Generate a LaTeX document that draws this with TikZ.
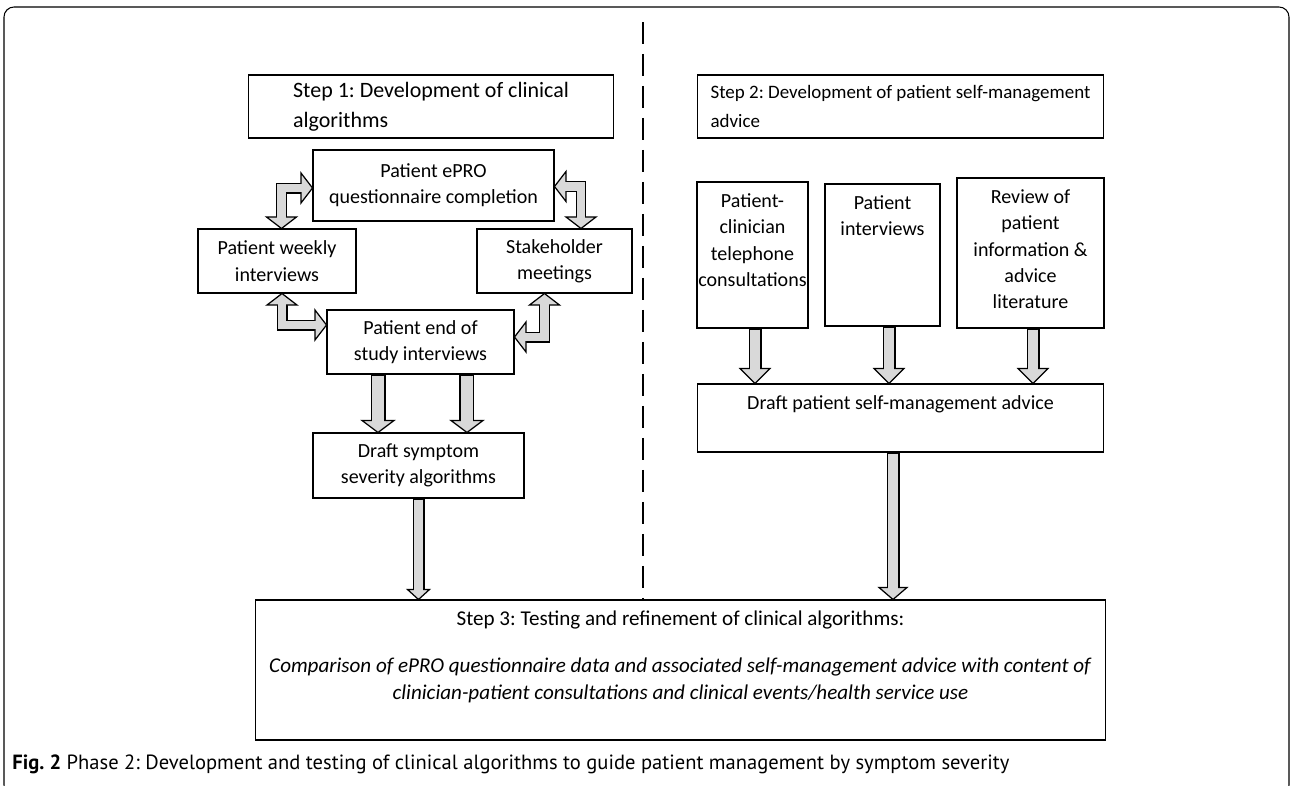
\documentclass[tikz,border=0pt]{standalone}
\usepackage{fontspec}
\setmainfont{Carlito}
\newfontfamily\capfont{PT Sans}
\usetikzlibrary{calc}
\frenchspacing

\definecolor{arrowgray}{gray}{0.85}

\pgfkeys{/blk/.cd,
  shaft/.store in=\blkshaft, head/.store in=\blkhead, len/.store in=\blklen,
  shaft=0.26cm, head=0.3cm, len=0.28cm}

% straight block arrow from #2 down to the node side #3
\newcommand{\flowarrow}[3][]{%
  \begingroup
  \pgfkeys{/blk/.cd,#1}%
  \coordinate (fa-s) at (#2);
  \coordinate (fa-t) at (fa-s |- #3);
  \coordinate (fa-b) at ($(fa-t)!\blklen!(fa-s)$);
  \draw[line width=\blkshaft] (fa-s) -- (fa-b);
  \draw[headtip] (fa-t) -- ($(fa-b)!\blkhead!90:(fa-t)$) -- ($(fa-b)!\blkhead!-90:(fa-t)$) -- cycle;
  \draw[arrowgray, line width=\blkshaft-1.4pt] ($(fa-s)!0.6pt!(fa-t)$) -- ($(fa-t)!\blklen-1pt!(fa-s)$);
  \endgroup}

% double headed block arrow with one bend: #2 side tip, #3 top/bottom tip
\newcommand{\elbowarrow}[3][]{%
  \begingroup
  \pgfkeys{/blk/.cd,#1}%
  \coordinate (ea-p) at (#2);
  \coordinate (ea-q) at (#3);
  \coordinate (ea-c) at (ea-q |- ea-p);
  \coordinate (ea-pb) at ($(ea-p)!\blklen!(ea-c)$);
  \coordinate (ea-qb) at ($(ea-q)!\blklen!(ea-c)$);
  \draw[line width=\blkshaft, line join=miter] (ea-pb) -- (ea-c) -- (ea-qb);
  \draw[headtip] (ea-p) -- ($(ea-pb)!\blkhead!90:(ea-p)$) -- ($(ea-pb)!\blkhead!-90:(ea-p)$) -- cycle;
  \draw[headtip] (ea-q) -- ($(ea-qb)!\blkhead!90:(ea-q)$) -- ($(ea-qb)!\blkhead!-90:(ea-q)$) -- cycle;
  \draw[arrowgray, line width=\blkshaft-1.4pt, line join=miter] ($(ea-p)!\blklen-1pt!(ea-c)$) -- (ea-c) -- ($(ea-q)!\blklen-1pt!(ea-c)$);
  \endgroup}

\newcommand{\topfill}[3]{\parbox[c][#2][t]{#1}{\centering\rule{0pt}{14.5pt}#3}}

\begin{document}
\begin{tikzpicture}[
  x=0.02cm, y=-0.02cm,
  box/.style={draw, line width=0.6pt, inner sep=0pt, align=center, font=\fontsize{11.4}{15}\selectfont},
  stepbox/.style={box, align=left, minimum height=1.26cm},
  headtip/.style={draw, fill=arrowgray, line width=0.7pt, line join=miter},
  divider/.style={line width=1.3pt, dash pattern=on 0.44cm off 0.2cm},
  frame/.style={line width=0.6pt, rounded corners=0.2cm}
]
  \useasboundingbox (0,0) rectangle (1292,785);
  \draw[frame] (4,7) rectangle (1289,795);
  \draw[divider] (643,22) -- (643,600);


  \node[stepbox, minimum width=7.32cm, font=\fontsize{12.5}{17}\selectfont] (stepone) at (431,106.5)
    {Step 1: Development of clinical\\algorithms};
  \node[stepbox, minimum width=8.14cm, font=\fontsize{10.8}{17}\selectfont] (steptwo) at (900.5,106.5)
    {Step 2: Development of patient self-management\\advice};


  \node[box, minimum width=4.82cm, minimum height=1.42cm] (epro)     at (433.5,185.5) {Patient ePRO\\questionnaire completion};
  \node[box, minimum width=3.16cm, minimum height=1.28cm] (weekly)   at (277,261)     {Patient weekly\\interviews};
  \node[box, minimum width=3.1cm,  minimum height=1.28cm] (stake)    at (554.5,261)   {Stakeholder\\meetings};
  \node[box, minimum width=3.74cm, minimum height=1.28cm] (endstudy) at (420.5,342)   {Patient end of\\study interviews};
  \node[box, minimum width=4.22cm, minimum height=1.3cm]  (symptom)  at (418.5,465.5) {Draft symptom\\severity algorithms};


  \node[box] (tele)   at (752.5,255)  {\topfill{2.22cm}{2.92cm}{Patient-\\clinician\\telephone\\consultations}};
  \node[box] (pint)   at (882.5,255)  {\topfill{2.3cm}{2.84cm}{Patient\\interviews}};
  \node[box] (review) at (1030.5,253) {\topfill{2.94cm}{3cm}{Review of\\patient\\information \&\\advice\\literature}};
  \node[box] (advice) at (900.5,418)  {\topfill{8.14cm}{1.36cm}{Draft patient self-management advice}};


  \node[box, font=\fontsize{12}{15.3}\selectfont] (stepthree) at (680.5,670)
    {\topfill{17.02cm}{2.8cm}{Step 3: Testing and refinement of clinical algorithms:\\[11.5pt]
    \textit{Comparison of ePRO questionnaire data and associated self-management advice with content of}\\
    \textit{clinician-patient consultations and clinical events/health service use}}};

  \node[anchor=base west, inner sep=0pt, font=\capfont\fontsize{11.7}{13}\selectfont] (caption) at (12,769)
    {\textbf{Fig. 2} Phase 2: Development and testing of clinical algorithms to guide patient management by symptom severity};


  \elbowarrow[shaft=0.22cm, len=0.23cm]{[yshift=-0.05cm]epro.west}{[xshift=0.09cm]weekly.north}
  \elbowarrow[shaft=0.22cm, len=0.23cm]{[yshift=-0.02cm]epro.east}{[xshift=0.53cm]stake.north}
  \elbowarrow[shaft=0.22cm, len=0.23cm]{[yshift=0.34cm]endstudy.west}{[xshift=0.1cm]weekly.south}
  \elbowarrow[shaft=0.22cm, len=0.23cm]{[yshift=0.1cm]endstudy.east}{[xshift=-0.2cm]stake.south}

  \flowarrow[shaft=0.3cm, head=0.32cm, len=0.24cm]{[xshift=-0.85cm]endstudy.south}{symptom.north}
  \flowarrow[shaft=0.3cm, head=0.32cm, len=0.24cm]{[xshift=0.93cm]endstudy.south}{symptom.north}
  \flowarrow[shaft=0.24cm, head=0.22cm, len=0.2cm]{symptom.south}{stepthree.north}

  \flowarrow[len=0.3cm]{[xshift=0.05cm]tele.south}{advice.north}
  \flowarrow[len=0.3cm]{[xshift=0.13cm]pint.south}{advice.north}
  \flowarrow[len=0.3cm]{[xshift=0.05cm]review.south}{advice.north}
  \flowarrow[head=0.28cm, len=0.24cm]{[xshift=-0.15cm]advice.south}{stepthree.north}
\end{tikzpicture}
\end{document}
